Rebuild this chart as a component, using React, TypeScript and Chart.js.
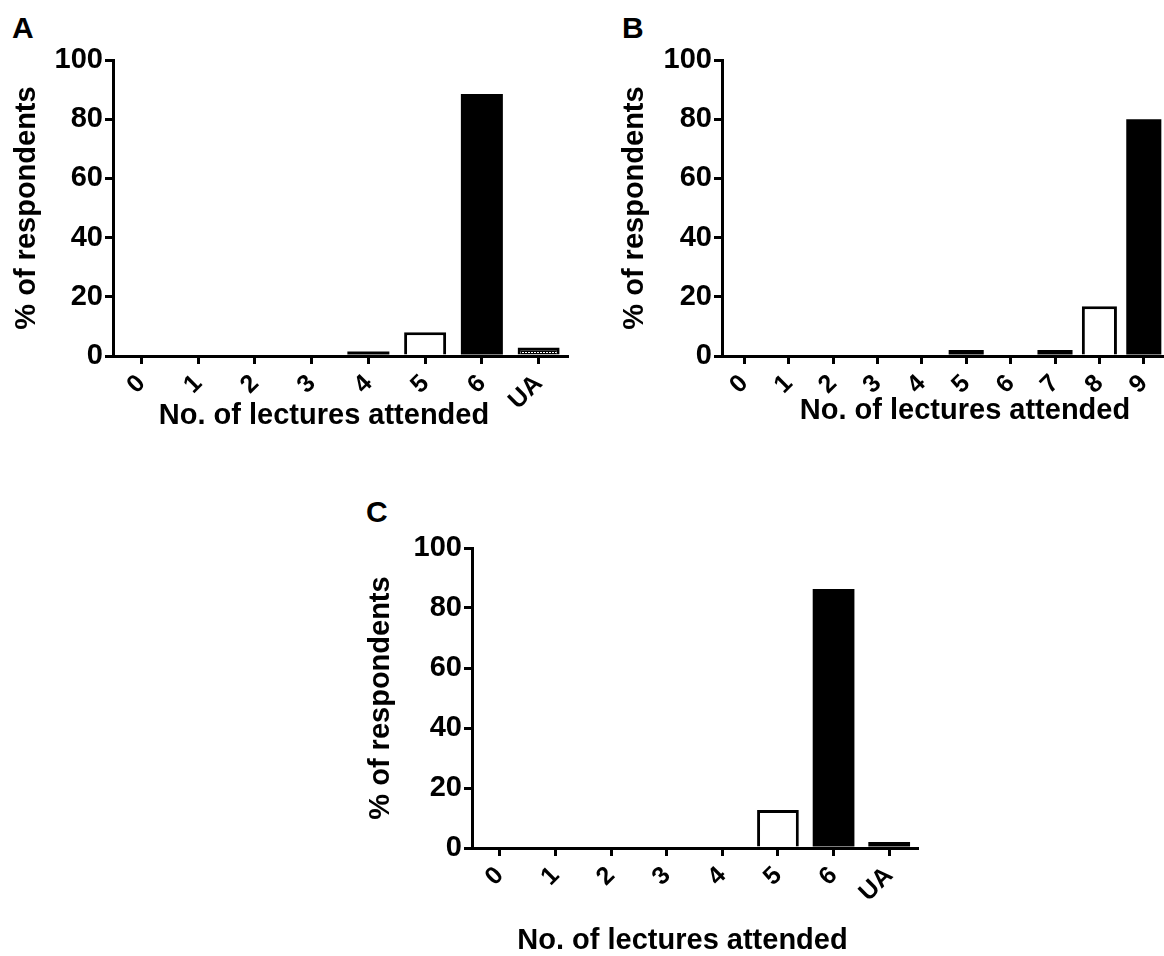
import React, { useEffect, useRef } from 'react';
import { Chart, registerables } from 'chart.js';

Chart.register(...registerables);

const FONT = "'Liberation Sans', Arial, sans-serif";

// ---- data ----
const panelALabels = ['0', '1', '2', '3', '4', '5', '6', 'UA'];
const panelAValues = [0, 0, 0, 0, 1.5, 8, 88.5, 2.9];
const panelBLabels = ['0', '1', '2', '3', '4', '5', '6', '7', '8', '9'];
const panelBValues = [0, 0, 0, 0, 0, 2, 0, 2, 16.8, 80];
const panelCLabels = ['0', '1', '2', '3', '4', '5', '6', 'UA'];
const panelCValues = [0, 0, 0, 0, 0, 12.7, 86.3, 2];
const yTickValues = [0, 20, 40, 60, 80, 100];
const yTitleText = '% of respondents';
const xTitleText = 'No. of lectures attended';

// fill kinds: k = black, w = white, p = dotted pattern
const panelAFills = ['k', 'k', 'k', 'k', 'k', 'w', 'k', 'p'];
const panelBFills = ['k', 'k', 'k', 'k', 'k', 'k', 'k', 'k', 'w', 'k'];
const panelCFills = ['k', 'k', 'k', 'k', 'k', 'w', 'k', 'k'];

function makePattern(): CanvasPattern | string {
  const c = document.createElement('canvas');
  c.width = 3;
  c.height = 3;
  const g = c.getContext('2d');
  if (!g) return '#000';
  g.fillStyle = '#000';
  g.fillRect(0, 0, 3, 3);
  g.fillStyle = '#fff';
  g.fillRect(0, 1, 2, 1);
  const p = g.createPattern(c, 'repeat');
  return p || '#000';
}

const xTitlePlugin = {
  id: 'xTitle',
  afterDraw(chart: any, _args: any, opts: any) {
    const { ctx, chartArea } = chart;
    ctx.save();
    ctx.font = `bold 29px ${FONT}`;
    ctx.fillStyle = '#000';
    ctx.textAlign = 'center';
    ctx.textBaseline = 'middle';
    ctx.fillText(opts.text, (chartArea.left + chartArea.right) / 2 + opts.dx, opts.y);
    ctx.restore();
  },
};

interface PanelProps {
  labels: string[];
  values: number[];
  fills: string[];
  left: number;
  top: number;
  width: number;
  height: number;
  padTop: number;
  padRight: number;
  yWidth: number;
  xHeight: number;
  yTitlePad: number;
  barPct: number;
  xTitleDx: number;
  xTitleY: number;
}

function Panel(props: PanelProps) {
  const ref = useRef<HTMLCanvasElement>(null);
  useEffect(() => {
    if (!ref.current) return;
    const pattern = makePattern();
    const colors = props.fills.map((f) => (f === 'w' ? '#fff' : f === 'p' ? pattern : '#000'));
    const borders = props.fills.map((f) => (f === 'k' ? 0 : 3));
    const chart = new Chart(ref.current, {
      type: 'bar',
      data: {
        labels: props.labels,
        datasets: [
          {
            data: props.values,
            backgroundColor: colors as any,
            borderColor: '#000',
            borderWidth: borders,
            borderSkipped: 'start',
            barPercentage: props.barPct,
            categoryPercentage: 1,
          },
        ],
      },
      options: {
        animation: false,
        responsive: false,
        layout: { padding: { top: props.padTop, right: props.padRight, bottom: 0, left: 0 } },
        plugins: {
          legend: { display: false },
          tooltip: { enabled: false },
          xTitle: { text: xTitleText, dx: props.xTitleDx, y: props.xTitleY },
        } as any,
        scales: {
          x: {
            type: 'category',
            offset: true,
            grid: {
              display: true,
              drawOnChartArea: false,
              drawTicks: true,
              offset: false,
              tickLength: 8,
              tickWidth: 3,
              tickColor: '#000',
              color: '#000',
              lineWidth: 3,
            },
            border: { display: true, color: '#000', width: 3 },
            ticks: {
              color: '#000',
              font: { family: FONT, size: 25, weight: 'bold' },
              minRotation: 45,
              maxRotation: 45,
              autoSkip: false,
              padding: 5,
            },
            afterFit: (scale: any) => {
              scale.height = props.xHeight;
            },
          },
          y: {
            min: 0,
            max: 100,
            afterBuildTicks: (scale: any) => {
              scale.ticks = yTickValues.map((v) => ({ value: v }));
            },
            grid: {
              display: true,
              drawOnChartArea: false,
              drawTicks: true,
              tickLength: 8,
              tickWidth: 3,
              tickColor: '#000',
              color: '#000',
              lineWidth: 3,
            },
            border: { display: true, color: '#000', width: 3 },
            ticks: {
              color: '#000',
              font: { family: FONT, size: 29, weight: 'bold' },
              padding: 2,
            },
            title: {
              display: true,
              text: yTitleText,
              color: '#000',
              font: { family: FONT, size: 29, weight: 'bold' },
              padding: { top: props.yTitlePad, bottom: 0 },
            },
            afterFit: (scale: any) => {
              scale.width = props.yWidth;
            },
          },
        },
      },
      plugins: [xTitlePlugin],
    });
    return () => chart.destroy();
  }, []);
  return (
    <div style={{ position: 'absolute', left: props.left, top: props.top, width: props.width, height: props.height }}>
      <canvas ref={ref} width={props.width} height={props.height} style={{ width: props.width, height: props.height, display: 'block' }} />
    </div>
  );
}

const letterStyle: React.CSSProperties = {
  position: 'absolute',
  fontFamily: FONT,
  fontWeight: 'bold',
  fontSize: 30,
  color: '#000',
  lineHeight: 1,
};

export default function App() {
  return (
    <div style={{ position: 'absolute', left: 0, top: 0, width: 1164, height: 956, overflow: 'hidden', background: '#fff' }}>
      <div style={{ ...letterStyle, left: 12, top: 13 }}>A</div>
      <div style={{ ...letterStyle, left: 622, top: 13 }}>B</div>
      <div style={{ ...letterStyle, left: 366, top: 497 }}>C</div>
      <Panel
        labels={panelALabels}
        values={panelAValues}
        fills={panelAFills}
        left={0}
        top={0}
        width={580}
        height={460}
        padTop={60}
        padRight={13}
        yWidth={113}
        xHeight={104}
        yTitlePad={10}
        barPct={0.74}
        xTitleDx={-16}
        xTitleY={416}
      />
      <Panel
        labels={panelBLabels}
        values={panelBValues}
        fills={panelBFills}
        left={580}
        top={0}
        width={600}
        height={460}
        padTop={60}
        padRight={14}
        yWidth={142}
        xHeight={104}
        yTitlePad={38}
        barPct={0.79}
        xTitleDx={21}
        xTitleY={411}
      />
      <Panel
        labels={panelCLabels}
        values={panelCValues}
        fills={panelCFills}
        left={330}
        top={480}
        width={600}
        height={476}
        padTop={68}
        padRight={13}
        yWidth={142}
        xHeight={108}
        yTitlePad={34}
        barPct={0.75}
        xTitleDx={-12}
        xTitleY={461}
      />
    </div>
  );
}
